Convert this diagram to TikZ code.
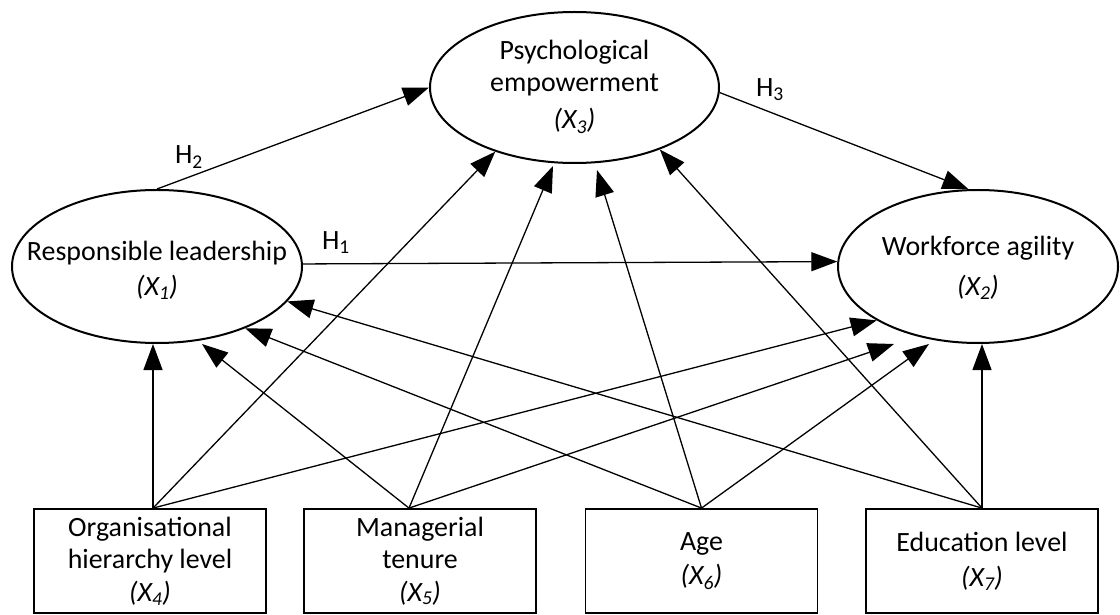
\documentclass[tikz,border=0pt]{standalone}
\usepackage{fontspec}
\setmainfont{Carlito}
\usetikzlibrary{arrows.meta,shapes.geometric,calc}
\newcommand{\dfont}{\fontsize{28}{32.5}\selectfont}
\begin{document}
\begin{tikzpicture}[x=1bp,y=-1bp,
  ell/.style={draw, ellipse, line width=2bp, inner sep=0pt},
  box/.style={draw, rectangle, line width=1.8bp, minimum width=232bp, minimum height=104bp, inner sep=0pt, align=center, font=\dfont},
  arr/.style={line width=1.3bp, -{Triangle[length=26bp,width=19bp]}},
  lbl/.style={align=center, inner sep=0pt, font=\dfont}
]
\useasboundingbox[fill=white] (0,0) rectangle (1120,615);

% latent constructs
\node[ell, minimum width=290bp, minimum height=153bp] (x1) at (157,266.5) {};
\node[lbl] (t1) at (157,270) {Responsible leadership\\[2.5bp]\textit{(X\textsubscript{1})}};
\node[ell, minimum width=289bp, minimum height=151bp] (x3) at (574.5,87.5) {};
\node[lbl] (t3) at (574.5,86.5) {Psychological\\empowerment\\[5bp]\textit{(X\textsubscript{3})}};
\node[ell, minimum width=280bp, minimum height=153bp] (x2) at (978,266.5) {};
\node[lbl] (t2) at (978,267.5) {Workforce agility\\[7.5bp]\textit{(X\textsubscript{2})}};

% control variables
\node[box] (b1) at (150,561) {Organisational\\hierarchy level\\\textit{(X\textsubscript{4})}};
\node[box] (b2) at (420,561) {Managerial\\tenure\\\textit{(X\textsubscript{5})}};
\node[box] (b3) at (701.5,561) {Age\\[2.5bp]\textit{(X\textsubscript{6})}};
\node[box] (b4) at (982,561) {Education level\\[2.5bp]\textit{(X\textsubscript{7})}};

% hypotheses
\draw[arr] (x1.north) -- (x3.west);
\draw[arr] (x1.1.4) -- (x2.178.6);
\draw[arr] (x3.358.2) -- (x2.97.4);
\node[lbl] (h2) at (189,157) {H\textsubscript{2}};
\node[lbl] (h1) at (336,243) {H\textsubscript{1}};
\node[lbl] (h3) at (770,90) {H\textsubscript{3}};

% from organisational hierarchy level
\draw[arr] ([xshift=3bp]b1.north) -- ([xshift=3bp]b1.north |- x1.south);
\draw[arr] ([xshift=3bp]b1.north) -- (x3.219.8);
\draw[arr] ([xshift=3bp]b1.north) -- (x2.208.6);
% from managerial tenure
\draw[arr] ([xshift=-11bp]b2.north) -- ([xshift=45bp]x1.south);
\draw[arr] ([xshift=-11bp]b2.north) -- ([shift={(-21.5bp,-2bp)}]x3.south);
\draw[arr] ([xshift=-11bp]b2.north) -- ([xshift=-84bp]x2.south);
% from age
\draw[arr] (b3.north) -- (x1.325.4);
\draw[arr] (b3.north) -- ([shift={(22.5bp,-6bp)}]x3.south);
\draw[arr] (b3.north) -- ([xshift=-49bp]x2.south);
% from education level
\draw[arr] (b4.north) -- (x1.345.25);
\draw[arr] (b4.north) -- (x3.324.9);
\draw[arr] (b4.north) -- (b4.north |- x2.south);
\end{tikzpicture}
\end{document}
